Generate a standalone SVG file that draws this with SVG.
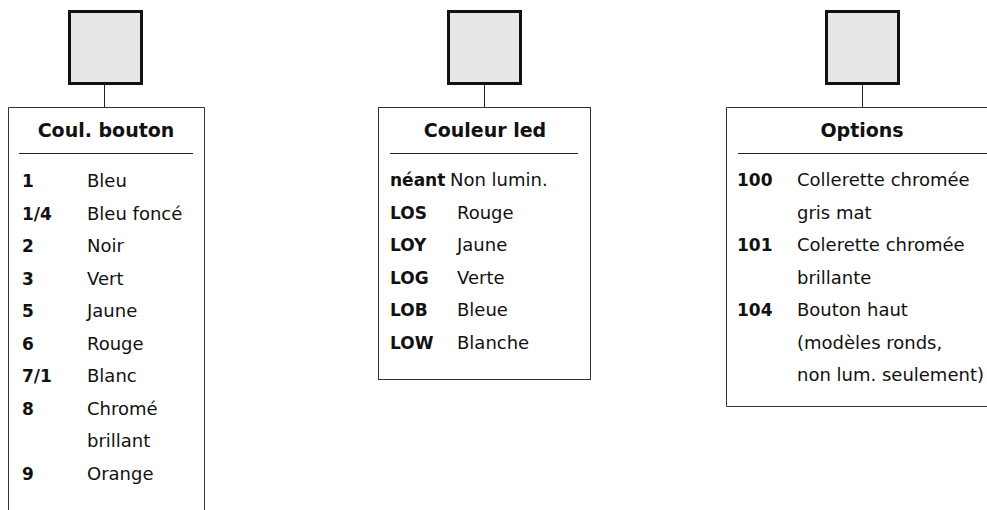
<svg xmlns="http://www.w3.org/2000/svg" width="987" height="510" viewBox="0 0 987 510">
<style>
.sq{fill:#e6e6e6;stroke:#111;stroke-width:3}
.box{fill:#fff;stroke:#333;stroke-width:1}
.div{stroke:#222;stroke-width:1}
.con{stroke:#222;stroke-width:1;fill:none}
.t{font-family:"DejaVu Sans",sans-serif;font-weight:bold;font-size:19px;fill:#111;text-anchor:middle}
.k{font-family:"DejaVu Sans",sans-serif;font-weight:bold;font-size:17px;fill:#111}
.v{font-family:"DejaVu Sans",sans-serif;font-size:18px;fill:#111}
</style>
<rect width="987" height="510" fill="#fff"/>
<g id="connectors">
<line class="con" x1="104.5" y1="85" x2="104.5" y2="107.5"/>
<line class="con" x1="484.5" y1="85" x2="484.5" y2="107.5"/>
<line class="con" x1="862.5" y1="85" x2="862.5" y2="107.5"/>
</g>
<g id="button1"><rect class="sq" x="69.5" y="11.5" width="72" height="72"/></g>
<g id="button2"><rect class="sq" x="448.5" y="11.5" width="72" height="72"/></g>
<g id="button3"><rect class="sq" x="826.5" y="11.5" width="72" height="72"/></g>
<g id="coul-bouton">
<path class="box" d="M8.5 512 V107.5 H204.5 V512"/>
<text class="t" x="106" y="137">Coul. bouton</text>
<line class="div" x1="19" y1="153.5" x2="193" y2="153.5"/>
<text class="k" x="22" y="187">1</text><text class="v" x="87" y="187">Bleu</text>
<text class="k" x="22" y="219.5">1/4</text><text class="v" x="87" y="219.5">Bleu foncé</text>
<text class="k" x="22" y="252">2</text><text class="v" x="87" y="252">Noir</text>
<text class="k" x="22" y="284.5">3</text><text class="v" x="87" y="284.5">Vert</text>
<text class="k" x="22" y="317">5</text><text class="v" x="87" y="317">Jaune</text>
<text class="k" x="22" y="349.5">6</text><text class="v" x="87" y="349.5">Rouge</text>
<text class="k" x="22" y="382">7/1</text><text class="v" x="87" y="382">Blanc</text>
<text class="k" x="22" y="414.5">8</text><text class="v" x="87" y="414.5">Chromé</text>
<text class="v" x="87" y="447">brillant</text>
<text class="k" x="22" y="479.5">9</text><text class="v" x="87" y="479.5">Orange</text>
</g>
<g id="couleur-led">
<rect class="box" x="378.5" y="107.5" width="212" height="272"/>
<text class="t" x="485" y="137">Couleur led</text>
<line class="div" x1="390" y1="153.5" x2="578" y2="153.5"/>
<text class="k" x="390" y="186">néant</text><text class="v" x="450" y="186">Non lumin.</text>
<text class="k" x="390" y="218.5">LOS</text><text class="v" x="457" y="218.5">Rouge</text>
<text class="k" x="390" y="251">LOY</text><text class="v" x="457" y="251">Jaune</text>
<text class="k" x="390" y="283.5">LOG</text><text class="v" x="457" y="283.5">Verte</text>
<text class="k" x="390" y="316">LOB</text><text class="v" x="457" y="316">Bleue</text>
<text class="k" x="390" y="348.5">LOW</text><text class="v" x="457" y="348.5">Blanche</text>
</g>
<g id="options">
<path class="box" d="M1000 107.5 H726.5 V406.5 H1000"/>
<text class="t" x="862" y="137">Options</text>
<line class="div" x1="738" y1="153.5" x2="987" y2="153.5"/>
<text class="k" x="737" y="186">100</text><text class="v" x="797" y="186">Collerette chromée</text>
<text class="v" x="797" y="218.5">gris mat</text>
<text class="k" x="737" y="251">101</text><text class="v" x="797" y="251">Colerette chromée</text>
<text class="v" x="797" y="283.5">brillante</text>
<text class="k" x="737" y="316">104</text><text class="v" x="797" y="316">Bouton haut</text>
<text class="v" x="797" y="348.5">(modèles ronds,</text>
<text class="v" x="797" y="381">non lum. seulement)</text>
</g>
</svg>
